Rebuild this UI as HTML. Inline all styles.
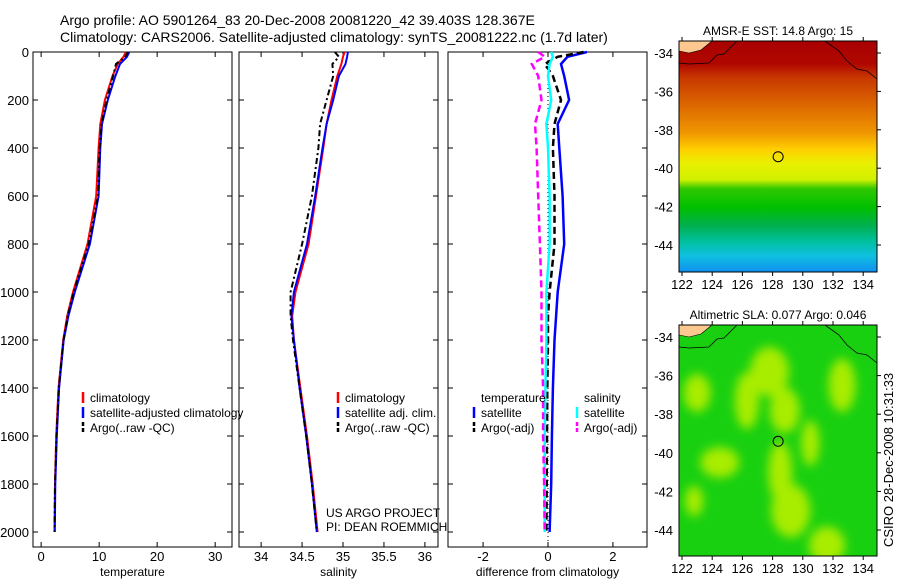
<!DOCTYPE html>
<html><head><meta charset="utf-8"><style>
body{margin:0;background:#fff;}
svg{font-family:"Liberation Sans",sans-serif;}
</style></head><body>
<svg id="c" width="900" height="580" xmlns="http://www.w3.org/2000/svg">
<defs>
<linearGradient id="sstg" x1="0" y1="0" x2="0" y2="1">
<stop offset="0" stop-color="#a80000"/><stop offset="0.1" stop-color="#b00800"/>
<stop offset="0.16" stop-color="#c83800"/><stop offset="0.3" stop-color="#e07000"/>
<stop offset="0.4" stop-color="#f09800"/><stop offset="0.47" stop-color="#ffd000"/>
<stop offset="0.53" stop-color="#e8f000"/><stop offset="0.6" stop-color="#d0f000"/>
<stop offset="0.64" stop-color="#30c800"/><stop offset="0.72" stop-color="#00c000"/>
<stop offset="0.8" stop-color="#00b050"/><stop offset="0.87" stop-color="#00c0a0"/>
<stop offset="0.93" stop-color="#10c0e0"/><stop offset="1" stop-color="#1090f0"/>
</linearGradient>
<filter id="bl" x="-50%" y="-50%" width="200%" height="200%"><feGaussianBlur stdDeviation="5"/></filter>
<clipPath id="clip2"><rect x="679" y="325" width="198" height="231"/></clipPath>
</defs>
<text x="60" y="25" font-size="14">Argo profile: AO 5901264_83 20-Dec-2008 20081220_42 39.403S 128.367E</text>
<text x="60" y="42" font-size="14">Climatology: CARS2006. Satellite-adjusted climatology: synTS_20081222.nc (1.7d later)</text>
</svg>
<script>
const NS='http://www.w3.org/2000/svg';
const svg=document.getElementById('c');
function mk(t,a,p){const e=document.createElementNS(NS,t);for(const k in a)e.setAttribute(k,a[k]);(p||svg).appendChild(e);return e;}

// ---- data ----
const depths=[0,20,50,100,200,300,400,600,800,1000,1100,1200,1400,1600,1800,2000];
const tempClim=[14.6,14.2,13.2,12.3,11.0,10.2,9.9,9.5,8.0,5.5,4.5,3.8,3.0,2.6,2.4,2.3];
const tempSat=[15.2,14.8,13.6,12.8,11.5,10.5,10.2,9.9,8.4,5.8,4.7,3.9,3.1,2.7,2.45,2.35];
const tempArgo=[15.0,14.5,12.9,12.4,11.3,10.4,10.1,9.8,8.2,5.6,4.6,3.85,3.05,2.65,2.4,2.3];
const salClim=[35.02,35.0,34.98,34.93,34.86,34.8,34.76,34.67,34.58,34.42,34.38,34.4,34.48,34.56,34.63,34.69];
const salSat=[35.06,35.05,35.03,34.95,34.88,34.8,34.75,34.66,34.56,34.4,34.37,34.4,34.47,34.55,34.62,34.68];
const salArgo=[34.9,34.95,34.87,34.88,34.8,34.72,34.7,34.62,34.5,34.36,34.36,34.39,34.47,34.55,34.62,34.68];
const dTempSat=[1.2,0.6,0.4,0.5,0.65,0.3,0.35,0.45,0.5,0.3,0.25,0.2,0.15,0.12,0.1,0.05];
const dTempArgo=[1.1,0.3,-0.1,0.15,0.4,0.2,0.15,0.2,0.2,0.05,0.0,0.0,-0.02,-0.03,-0.04,-0.05];
const dSalSat=[0.1,0.15,0.05,0.0,0.1,-0.05,0.0,0.05,0.05,-0.05,-0.05,-0.05,-0.08,-0.1,-0.1,-0.1];
const dSalArgo=[-0.3,-0.1,-0.5,-0.3,-0.2,-0.4,-0.35,-0.3,-0.25,-0.2,-0.2,-0.2,-0.15,-0.15,-0.12,-0.1];
const depthTicks=[0,200,400,600,800,1000,1200,1400,1600,1800,2000];
const tempTicks=[0,10,20,30];
const salTicks=[34,34.5,35,35.5,36];
const diffTicks=[-2,0,2];

// ---- axes ----
const yTop=52, yPer=0.24;
const Y=d=>yTop+d*yPer;
const panels=[
 {x0:33,x1:232,lo:-1.4,hi:32.9,ticks:tempTicks,lab:'temperature',name:'temperature'},
 {x0:239,x1:438,lo:33.73,hi:36.16,ticks:salTicks,lab:'salinity',name:'salinity'},
 {x0:448,x1:647,lo:-3.08,hi:3.05,ticks:diffTicks,lab:'difference from climatology',name:'difference'}
];
panels.forEach((p,i)=>{
 p.X=v=>p.x0+(v-p.lo)/(p.hi-p.lo)*(p.x1-p.x0);
 const g=mk('g',{});
 
 
 mk('rect',{x:p.x0,y:yTop,width:p.x1-p.x0,height:547-yTop,fill:'none',stroke:'#000'},g);
 depthTicks.forEach(d=>{
  mk('line',{x1:p.x0,x2:p.x0+5,y1:Y(d),y2:Y(d),stroke:'#000'},g);
  mk('line',{x1:p.x1,x2:p.x1-5,y1:Y(d),y2:Y(d),stroke:'#000'},g);
  if(i==0){const t=mk('text',{x:p.x0-4,y:Y(d)+5,'font-size':13,'text-anchor':'end'},g);t.textContent=d;}
 });
 p.ticks.forEach(v=>{
  const x=p.X(v);
  mk('line',{x1:x,x2:x,y1:547,y2:542,stroke:'#000'},g);
  mk('line',{x1:x,x2:x,y1:yTop,y2:yTop+5,stroke:'#000'},g);
  const t=mk('text',{x:x,y:561,'font-size':13,'text-anchor':'middle'},g);
  t.textContent=v;
 });
 const t=mk('text',{x:(p.x0+p.x1)/2,y:576,'font-size':12,'text-anchor':'middle'},g);
 t.textContent=p.lab;
});
function line(p,vals,col,dash,w,name){
 const pts=vals.map((v,k)=>p.X(v).toFixed(1)+','+Y(depths[k]).toFixed(1)).join(' ');
 const e=mk('polyline',{points:pts,fill:'none',stroke:col,'stroke-width':w||2,'stroke-dasharray':dash||'none'});
 
 
}
const P=panels;
line(P[0],tempClim,'#f00',null,2,'temp-climatology-line');
line(P[0],tempSat,'#00f',null,2,'temp-satellite-line');
line(P[0],tempArgo,'#000','6,3,2,3',2,'temp-argo-line');
line(P[1],salClim,'#f00',null,2,'sal-climatology-line');
line(P[1],salSat,'#00f',null,2,'sal-satellite-line');
line(P[1],salArgo,'#000','6,3,2,3',2,'sal-argo-line');
mk('line',{x1:P[2].X(0),x2:P[2].X(0),y1:yTop,y2:547,stroke:'#000','stroke-dasharray':'1,3'});
line(P[2],dTempSat,'#00f',null,2.5,'diff-temp-satellite-line');
line(P[2],dTempArgo,'#000','7,4',2.5,'diff-temp-argo-line');
line(P[2],dSalSat,'#0ff',null,2.5,'diff-sal-satellite-line');
line(P[2],dSalArgo,'#f0f','7,4',2.5,'diff-sal-argo-line');

function legend(x,y,items,name){
 const g=mk('g',{});
 items.forEach((it,k)=>{
  if(it[0])mk('line',{x1:x,x2:x,y1:y+k*15-10,y2:y+k*15+1,stroke:it[0],'stroke-width':2.5,'stroke-dasharray':it[2]||'none'},g);
  const t=mk('text',{x:x+7,y:y+k*15,'font-size':12},g);t.textContent=it[1];
 });
}
legend(83,402,[['#f00','climatology'],['#00f','satellite-adjusted climatology'],['#000','Argo(..raw -QC)','4,2']],'temp-legend');
legend(338,402,[['#f00','climatology'],['#00f','satellite adj. clim.'],['#000','Argo(..raw -QC)','4,2']],'sal-legend');
legend(474,402,[[null,'temperature'],['#00f','satellite'],['#000','Argo(-adj)','4,2']],'diff-temp-legend');
legend(577,402,[[null,'salinity'],['#0ff','satellite'],['#f0f','Argo(-adj)','4,2']],'diff-sal-legend');
{const t=mk('text',{x:326,y:517,'font-size':12});t.textContent='US ARGO PROJECT';
 const t2=mk('text',{x:326,y:531,'font-size':12});t2.textContent='PI: DEAN ROEMMICH';}

// ---- maps ----
const lonTicks=[122,124,126,128,130,132,134];
const latTicks=[-34,-36,-38,-40,-42,-44];
// SLA highs (lon, lat, rx deg, ry deg)
const slaBlobLon=[127.8,123.0,126.3,132.6,128.8,129.2,124.5,131.6,128.5,130.5,122.8];
const slaBlobLat=[-35.8,-36.9,-37.3,-36.5,-37.8,-43.0,-40.5,-44.8,-41.0,-39.5,-42.5];
const slaBlobRx=[1.3,0.9,0.8,0.9,1.0,1.3,1.3,1.2,0.8,0.6,0.6];
const slaBlobRy=[1.3,1.0,1.5,1.4,1.2,1.4,0.8,1.0,1.6,1.2,0.8];
function map(m){
 const g=mk('g',{});
 const LX=v=>682+(v-122)*15.1, LY=v=>m.lat0+(-34-v)*m.dy;
 m.fill(g,LX,LY);
 mk('path',{d:`M${m.x0} ${m.y0+22} L${m.x0+10} ${m.y0+23} L${m.x0+30} ${m.y0+22} L${m.x0+38} ${m.y0+14} L${m.x0+45} ${m.y0+13} L${m.x0+58} ${m.y0} `,fill:'none',stroke:'#000','stroke-width':0.8},g);
 mk('path',{d:`M${m.x0} ${m.y0+10} L${m.x0+10} ${m.y0+12} L${m.x0+22} ${m.y0+9} L${m.x0+33} ${m.y0} L${m.x0} ${m.y0} Z`,fill:'#fcc890',stroke:'#000','stroke-width':0.6},g);
 mk('path',{d:`M${m.x1-52} ${m.y0} L${m.x1-38} ${m.y0+10} L${m.x1-30} ${m.y0+20} L${m.x1-20} ${m.y0+28} L${m.x1-10} ${m.y0+30} L${m.x1} ${m.y0+38}`,fill:'none',stroke:'#000','stroke-width':0.8},g);
 mk('rect',{x:m.x0,y:m.y0,width:m.x1-m.x0,height:m.y1-m.y0,fill:'none',stroke:'#000'},g);
 lonTicks.forEach(v=>{mk('line',{x1:LX(v),x2:LX(v),y1:m.y1,y2:m.y1+4,stroke:'#000'},g);
  mk('line',{x1:LX(v),x2:LX(v),y1:m.y0,y2:m.y0-4,stroke:'#000'},g);
  const t=mk('text',{x:LX(v),y:m.y1+17,'font-size':13,'text-anchor':'middle'},g);t.textContent=v;});
 latTicks.forEach(v=>{mk('line',{x1:m.x1,x2:m.x1+4,y1:LY(v),y2:LY(v),stroke:'#000'},g);
  const t=mk('text',{x:m.x0-6,y:LY(v)+5,'font-size':13,'text-anchor':'end'},g);t.textContent=v;});
 mk('circle',{cx:LX(128.367),cy:LY(-39.403),r:5,fill:'none',stroke:'#000'},g);
 const t=mk('text',{x:(m.x0+m.x1)/2,y:m.y0-6,'font-size':12,'text-anchor':'middle'},g);t.textContent=m.title;
}
map({x0:679,x1:877,y0:41,y1:272,lat0:53,dy:19.2,name:'sst-map',title:'AMSR-E SST: 14.8 Argo: 15',
 fill:(g,LX,LY)=>mk('rect',{x:679,y:41,width:198,height:231,fill:'url(#sstg)'},g)});
map({x0:679,x1:877,y0:325,y1:556,lat0:337,dy:19.3,name:'sla-map',title:'Altimetric SLA: 0.077 Argo: 0.046',
 fill:(g,LX,LY)=>{
  mk('rect',{x:679,y:325,width:198,height:231,fill:'#18d010'},g);
  const bg=mk('g',{'clip-path':'url(#clip2)'},g);
  const bb=mk('g',{filter:'url(#bl)'},bg);
  slaBlobLon.forEach((lo,k)=>{
   const e=mk('ellipse',{cx:LX(lo),cy:LY(slaBlobLat[k]),rx:slaBlobRx[k]*15,ry:slaBlobRy[k]*19,fill:'#a8ec00'},bb);
   
   
  });
 }});
{const t=mk('text',{x:0,y:0,'font-size':13,transform:'translate(893,547) rotate(-90)'});t.textContent='CSIRO 28-Dec-2008 10:31:33';
 }
</script>
</body></html>
